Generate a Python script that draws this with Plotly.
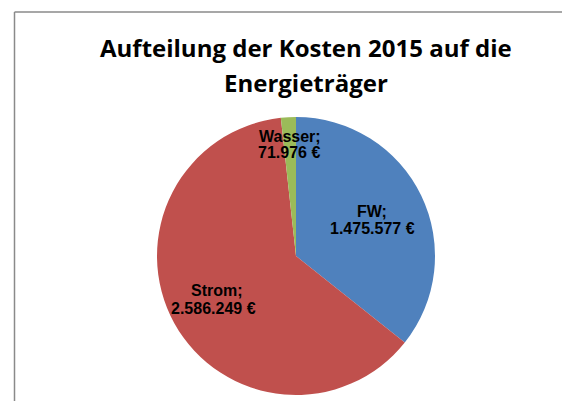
import plotly.graph_objects as go

W, H = 562, 401

categories = ["FW", "Strom", "Wasser"]
values = [1475577, 2586249, 71976]
colors = ["#4F81BD", "#C0504D", "#9BBB59"]
title_lines = ["Aufteilung der Kosten 2015 auf die", "Energieträger"]

def de_fmt(v):
    return f"{v:,}".replace(",", ".") + " €"

cx, cy, r = 296, 256, 139

fig = go.Figure(go.Pie(
    labels=categories, values=values, sort=False, direction="clockwise",
    rotation=0, marker=dict(colors=colors, line=dict(width=0)),
    textinfo="none", hoverinfo="label+value", showlegend=False,
    domain=dict(x=[(cx - r) / W, (cx + r) / W], y=[1 - (cy + r) / H, 1 - (cy - r) / H]),
))

label_pos = {"FW": (372, 211, 372, 228.5), "Strom": (217, 290.5, 213, 308.5),
             "Wasser": (289.5, 136.5, 289, 152.5)}
ann = []
for c, v in zip(categories, values):
    x1, y1, x2, y2 = label_pos[c]
    for txt, xx, yy in [(f"{c};", x1, y1), (de_fmt(v), x2, y2)]:
        ann.append(dict(x=xx / W, y=1 - yy / H, xref="paper", yref="paper",
                        text=f"<b>{txt}</b>", showarrow=False, align="center",
                        font=dict(family="Liberation Sans, Arial", size=16, color="#000"),
                        xanchor="center", yanchor="middle"))
for i, (t, yy) in enumerate(zip(title_lines, [47, 82])):
    ann.append(dict(x=306 / W, y=1 - yy / H, xref="paper", yref="paper", text=f"<b>{t}</b>",
                    showarrow=False, xanchor="center", yanchor="middle",
                    font=dict(family="Open Sans", size=24, color="#000")))

fig.update_layout(
    width=W, height=H, margin=dict(l=0, r=0, t=0, b=0),
    paper_bgcolor="white", plot_bgcolor="white", annotations=ann,
    shapes=[
        dict(type="line", xref="paper", yref="paper", x0=14.5 / W, x1=14.5 / W, y0=0, y1=1 - 12 / H,
             line=dict(color="#8a8a8a", width=1.5)),
        dict(type="line", xref="paper", yref="paper", x0=14.5 / W, x1=1, y0=1 - 12 / H, y1=1 - 12 / H,
             line=dict(color="#8a8a8a", width=1.5)),
    ],
)
fig.write_html("out.html", config={"displayModeBar": False},
               post_script="document.body.style.margin='0';document.body.style.overflow='hidden';")
